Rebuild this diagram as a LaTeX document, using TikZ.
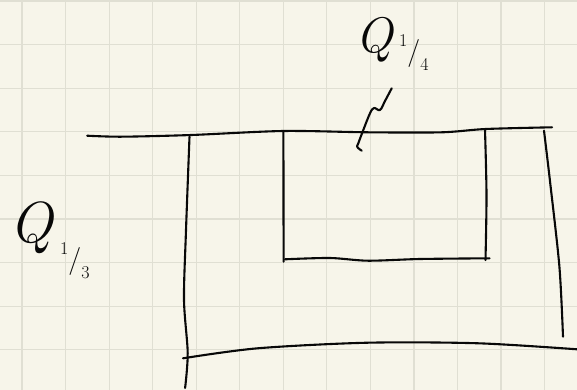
\documentclass[tikz,border=0pt]{standalone}
\usepackage{fontspec}
\usepackage{tikz}
\usetikzlibrary{positioning}
\definecolor{paperfill}{RGB}{247,245,234}
\definecolor{gridline}{RGB}{224,223,211}
\definecolor{penink}{RGB}{8,8,8}
\newcommand{\slantfrac}[2]{\raisebox{0.5em}{\fontsize{18}{18}\selectfont #1}/\raisebox{-0.36em}{\fontsize{18}{18}\selectfont #2}}
\tikzset{
    gridrule/.style={gridline, line width=1.2pt},
    penstroke/.style={penink, line width=2.1pt, line cap=round, line join=round},
    qlabel/.style={inner sep=0pt, text=penink, font=\fontsize{50}{50}\selectfont\itshape},
    fraclabel/.style={inner sep=0pt, text=penink, font=\fontsize{28}{28}\selectfont},
}

\begin{document}
\begin{tikzpicture}[x=1pt, y=-1pt]

% Paper and squared grid
\fill[paperfill] (0,0) rectangle (577,390);
\useasboundingbox (0,0) rectangle (577,390);
\foreach \gx in {0,...,12}
    \draw[gridrule] (22+43.55*\gx,0) -- (22+43.55*\gx,390);
\foreach \gy in {0,...,8}
    \draw[gridrule] (0,1+43.6*\gy) -- (577,1+43.6*\gy);

% Labels
\node[qlabel] (q-quarter) at (374,40) {Q};
\node[fraclabel, right=6pt of q-quarter, yshift=-13pt] (frac-quarter) {\slantfrac{1}{4}};
\node[qlabel, font=\fontsize{58}{58}\selectfont\itshape] (q-third) at (31,228) {Q};
\node[fraclabel, right=7pt of q-third, yshift=-33pt] (frac-third) {\slantfrac{1}{3}};

% Pointer from the quarter label down to the top line
\coordinate (pointer-start) at (391.7,88.3);
\draw[penstroke] plot[smooth, tension=0.6] coordinates {(pointer-start) (385,101) (380,110) (374,108) (370,113.3) (363.3,130) (358.3,143.3) (357.3,147) (361.7,150.7)};

% Top line
\draw[penstroke] plot[smooth, tension=0.5] coordinates {(87.2,135.7) (121.5,136.7) (191.4,135) (283.4,131) (368,132.3) (441.7,132.3) (485.8,129) (552,127.3)};

% Outer frame: left, right and bottom
\draw[penstroke] plot[smooth, tension=0.5] coordinates {(189.5,136.7) (185.9,233) (184,300) (187.7,353) (185.1,388)};
\draw[penstroke] plot[smooth, tension=0.5] coordinates {(544,130.7) (550.2,183) (559.4,266.7) (563,336.7)};
\draw[penstroke] plot[smooth, tension=0.5] coordinates {(183,358.3) (257.6,348.3) (368,342.7) (478.5,343.3) (577,349.3)};

% Inner box
\draw[penstroke] (283.4,131.7) -- (283.6,261.7);
\draw[penstroke] plot[smooth, tension=0.5] coordinates {(485,130) (486.5,195) (485.5,260)};
\draw[penstroke] plot[smooth, tension=0.5] coordinates {(285,259.3) (330,258) (368,260.7) (420,259) (489.5,258.3)};

\end{tikzpicture}
\end{document}
